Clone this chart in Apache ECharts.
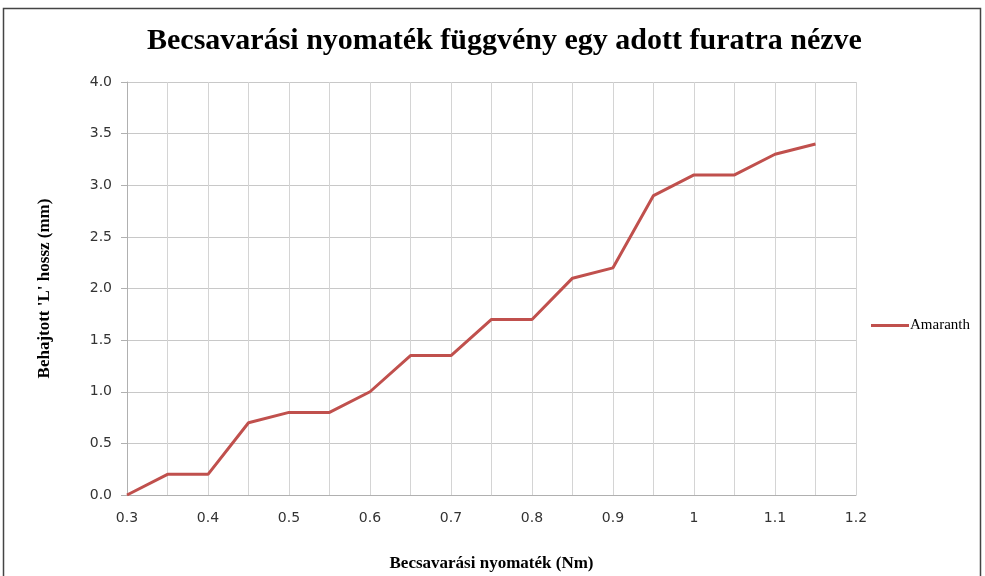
<!DOCTYPE html>
<html lang="hu">
<head>
    <meta charset="UTF-8">
    <title>Becsavarási nyomaték</title>
    <style>
        html, body { margin: 0; padding: 0; background: #fff; }
        #chart { width: 985px; height: 576px; }
    </style>
</head>
<body>
<div id="chart"></div>
<script src="https://cdn.jsdelivr.net/npm/echarts@6/dist/echarts.min.js"></script>
<script>
    // adatok
    var torque = [0.3, 0.35, 0.4, 0.45, 0.5, 0.55, 0.6, 0.65, 0.7, 0.75, 0.8, 0.85, 0.9, 0.95, 1, 1.05, 1.1, 1.15];
    var lengthMm = [0, 0.2, 0.2, 0.7, 0.8, 0.8, 1.0, 1.35, 1.35, 1.7, 1.7, 2.1, 2.2, 2.9, 3.1, 3.1, 3.3, 3.4];
    var seriesName = 'Amaranth';

    var points = torque.map(function (x, i) { return [x, lengthMm[i]]; });

    var serif = '"Liberation Serif", "DejaVu Serif", serif';
    var sans = '"DejaVu Sans", Verdana, sans-serif';
    var red = '#C0504D';

    var myChart = echarts.init(document.getElementById('chart'));
    var option = {
        animation: false,
        title: {
            text: 'Becsavarási nyomaték függvény egy adott furatra nézve',
            left: 142,
            top: 21,
            textStyle: { fontFamily: serif, fontSize: 30, fontWeight: 'bold', color: '#000' }
        },
        legend: {
            data: [seriesName],
            orient: 'vertical',
            left: 866,
            top: 313,
            itemWidth: 38,
            itemHeight: 3,
            itemGap: 4,
            icon: 'rect',
            textStyle: { fontFamily: serif, fontSize: 15, color: '#000', padding: [0, 0, 0, -4] }
        },
        grid: { left: 127, right: 129, top: 82, bottom: 81, outerBoundsMode: 'none', containLabel: false },
        xAxis: {
            type: 'value',
            min: 0.3,
            max: 1.2,
            interval: 0.05,
            name: 'Becsavarási nyomaték (Nm)',
            nameLocation: 'middle',
            nameGap: 60,
            nameTextStyle: { fontFamily: serif, fontSize: 17, fontWeight: 'bold', color: '#000' },
            axisLine: { lineStyle: { color: '#b0b0b0', width: 1 } },
            axisTick: { show: false },
            axisLabel: {
                margin: 16,
                fontFamily: sans,
                fontSize: 14,
                color: '#333',
                formatter: function (v) {
                    var k = Math.round(v * 100);
                    if (k % 10 !== 0) return '';
                    return String(Math.round(v * 10) / 10);
                }
            },
            splitLine: { show: true, lineStyle: { color: '#d4d4d4', width: 1 } }
        },
        yAxis: {
            type: 'value',
            min: 0,
            max: 4,
            interval: 0.5,
            name: "Behajtott 'L' hossz (mm)",
            nameLocation: 'middle',
            nameGap: 74,
            nameTextStyle: { fontFamily: serif, fontSize: 17, fontWeight: 'bold', color: '#000' },
            axisLine: { show: true, lineStyle: { color: '#b0b0b0', width: 1 } },
            axisTick: { show: true, length: 6, lineStyle: { color: '#b0b0b0' } },
            axisLabel: {
                margin: 15,
                fontFamily: sans,
                fontSize: 14,
                color: '#333',
                formatter: function (v) { return v.toFixed(1); }
            },
            splitLine: { show: true, lineStyle: { color: '#c8c8c8', width: 1 } }
        },
        series: [{
            name: seriesName,
            type: 'line',
            data: points,
            showSymbol: false,
            symbol: 'none',
            color: red,
            lineStyle: { color: red, width: 3 }
        }],
        graphic: [{
            type: 'rect',
            shape: { x: 3.5, y: 8.5, width: 977, height: 580 },
            style: { fill: 'none', stroke: '#444', lineWidth: 1.5 },
            silent: true
        }]
    };
    myChart.setOption(option);
</script>
</body>
</html>
